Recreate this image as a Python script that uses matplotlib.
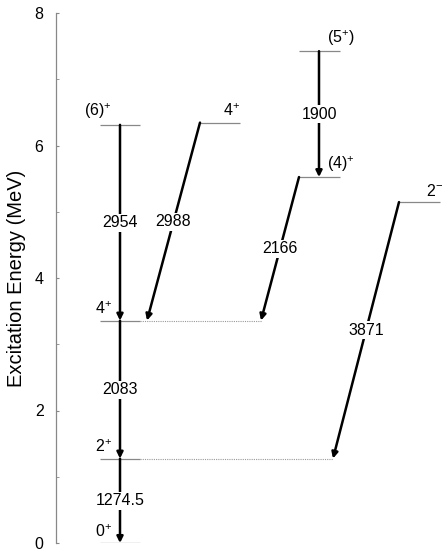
import matplotlib.pyplot as plt

plt.rcParams['font.family'] = ['Liberation Sans', 'DejaVu Sans']
plt.rcParams['mathtext.fontset'] = 'custom'
plt.rcParams['mathtext.rm'] = 'Liberation Sans'
plt.rcParams['mathtext.default'] = 'regular'

# gamma transitions (keV): energy, initial level, final level
gamma_energy = [1274.5, 2083, 2954, 2988, 2166, 1900, 3871]
gamma_from = ['2+', '4+', '6+', '4+b', '4+c', '5+', '2-']
gamma_to = ['0+', '2+', '4+', '4+', '4+', '4+c', '2+']

# spin/parity labels of the levels
spin_label = {
    '0+': r'$0^{+}$', '2+': r'$2^{+}$', '4+': r'$4^{+}$', '6+': r'$(6)^{+}$',
    '4+b': r'$4^{+}$', '4+c': r'$(4)^{+}$', '5+': r'$(5^{+})$', '2-': r'$2^{-}$',
}

# level energies built up from the ground state by the gamma energies
level_energy = {'0+': 0.0}
for e, a, b in zip(gamma_energy, gamma_from, gamma_to):
    level_energy[a] = level_energy[b] + e

# drawing layout (horizontal units are arbitrary)
level_span = {'0+': (100, 140), '2+': (100, 140), '4+': (100, 140), '6+': (100, 140),
              '4+b': (200, 240), '4+c': (299, 340), '5+': (299, 340), '2-': (399, 440)}
label_pos = {'0+': (112, 'right'), '2+': (112, 'right'), '4+': (112, 'right'),
             '6+': (112, 'right'), '4+b': (240, 'right'), '4+c': (327, 'left'),
             '5+': (327, 'left'), '2-': (443, 'right')}
arrow_x = [(120, 120), (120, 120), (120, 120), (200, 147), (299, 261), (319, 319), (399, 333)]
dotted = {'4+': 262, '2+': 333}

fig = plt.figure(figsize=(4.44, 5.49), dpi=100)
ax = fig.add_axes([56 / 444, 6 / 549, 388 / 444, 530 / 549])
ax.set_xlim(56, 444)
ax.set_ylim(0, 8)

for name, (x0, x1) in level_span.items():
    y = level_energy[name] / 1000
    ax.plot([x0, x1], [y, y], color='#888888', lw=0.9, solid_capstyle='butt')
    lx, ha = label_pos[name]
    ax.annotate(spin_label[name], xy=(lx, y), xytext=(0, 2.5), textcoords='offset points',
                ha=ha, va='bottom', fontsize=11.5)

for name, xend in dotted.items():
    y = level_energy[name] / 1000
    ax.plot([140, xend], [y, y], color='#999999', lw=0.8, ls=(0, (1, 1)))

for e, a, b, (xs, xe) in zip(gamma_energy, gamma_from, gamma_to, arrow_x):
    ys, ye = level_energy[a] / 1000, level_energy[b] / 1000
    ax.annotate('', xy=(xe, ye), xytext=(xs, ys),
                arrowprops=dict(arrowstyle='-|>', lw=1.8, color='black',
                                mutation_scale=9, shrinkA=0, shrinkB=0))
    ax.text((xs + xe) / 2, (ys + ye) / 2, f'{e:g}', ha='center', va='center', fontsize=11.5,
            bbox=dict(fc='white', ec='none', pad=1.0), zorder=5)

for side in ['top', 'right', 'bottom']:
    ax.spines[side].set_visible(False)
ax.spines['left'].set_color('#888888')
ax.spines['left'].set_linewidth(0.9)
ax.set_xticks([])
ax.set_yticks([0, 2, 4, 6, 8])
ax.set_yticks([1, 3, 5, 7], minor=True)
ax.tick_params(axis='y', which='both', direction='in', length=2.5, color='#888888',
               labelsize=11.5, pad=9)
ax.set_ylabel('Excitation Energy (MeV)', fontsize=14.5, labelpad=6)

fig.savefig('out.png', dpi=100)
